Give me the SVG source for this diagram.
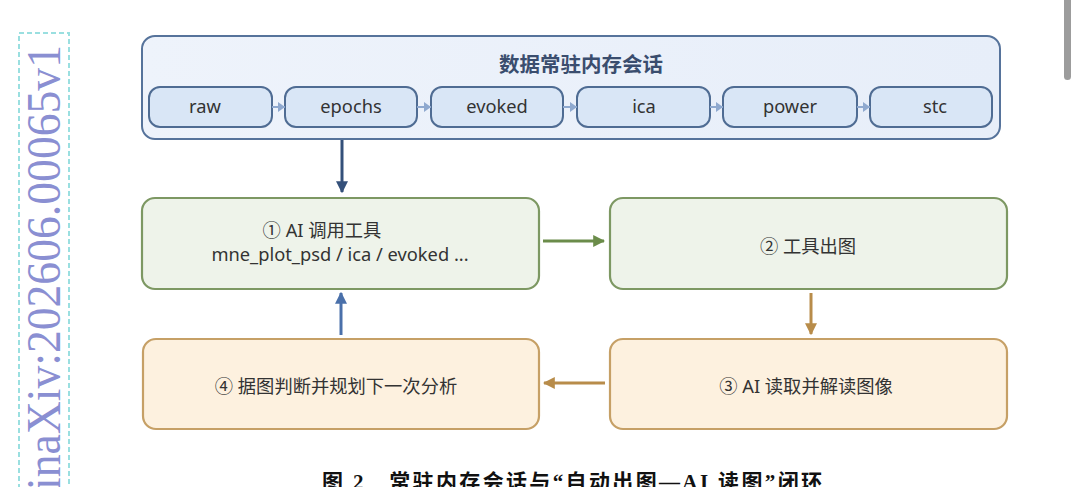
<svg xmlns="http://www.w3.org/2000/svg" width="1080" height="487" viewBox="0 0 1080 487">
  <style>
    .lbl { font-family: "Noto Sans", "Noto Sans CJK SC", sans-serif; font-size: 18.3px; fill: #333333; text-anchor: middle; }
    .pill { fill: #d9e6f6; stroke: #4f6c93; stroke-width: 2; }
    .pilltxt { font-family: "Noto Sans", "Noto Sans CJK SC", sans-serif; font-size: 18.3px; fill: #333333; text-anchor: middle; }
    .green { fill: #eef3ea; stroke: #7d9863; stroke-width: 2.2; }
    .tan { fill: #fdf1df; stroke: #c6a066; stroke-width: 2.2; }
  </style>
  <defs>
    <linearGradient id="cg" x1="0" y1="0" x2="1" y2="0">
      <stop offset="0" stop-color="#eef3fb"/>
      <stop offset="1" stop-color="#e7eef9"/>
    </linearGradient>
    <marker id="mNavy" viewBox="0 0 10 10" refX="9" refY="5" markerWidth="4" markerHeight="4" orient="auto" markerUnits="strokeWidth">
      <path d="M0,0 L10,5 L0,10 z" fill="#34507a"/>
    </marker>
    <marker id="mBlue" viewBox="0 0 10 10" refX="9" refY="5" markerWidth="4" markerHeight="4" orient="auto" markerUnits="strokeWidth">
      <path d="M0,0 L10,5 L0,10 z" fill="#4a70aa"/>
    </marker>
    <marker id="mGreen" viewBox="0 0 10 10" refX="9" refY="5" markerWidth="4" markerHeight="4" orient="auto" markerUnits="strokeWidth">
      <path d="M0,0 L10,5 L0,10 z" fill="#6b8c4a"/>
    </marker>
    <marker id="mTan" viewBox="0 0 10 10" refX="9" refY="5" markerWidth="4" markerHeight="4" orient="auto" markerUnits="strokeWidth">
      <path d="M0,0 L10,5 L0,10 z" fill="#b88c4a"/>
    </marker>
  </defs>

  <rect x="0" y="0" width="1080" height="487" fill="#ffffff"/>

  <!-- side watermark -->
  <g id="watermark">
    <rect x="19" y="33" width="50" height="470" fill="none" stroke="#9adfe0" stroke-width="2" stroke-dasharray="5 3"/>
    <text transform="translate(60,490) rotate(-90)" font-family="'Liberation Serif', serif" font-size="48" fill="#8a8fd2" textLength="445" lengthAdjust="spacingAndGlyphs">inaXiv:202606.00065v1</text>
  </g>

  <!-- scrollbar -->
  <rect x="1064" y="-6" width="7" height="86" rx="3.5" fill="#9c9c9c"/>

  <!-- container -->
  <g id="session">
    <rect x="142" y="36" width="858" height="103" rx="13" fill="url(#cg)" stroke="#56739b" stroke-width="2"/>
    <text x="581" y="72" font-family="'Noto Sans CJK SC', sans-serif" font-size="20.5" font-weight="bold" fill="#3a4d6e" text-anchor="middle">数据常驻内存会话</text>
  </g>
  <g id="raw"><rect class="pill" x="149" y="87" width="123" height="40" rx="11"/><text class="pilltxt" x="205" y="113">raw</text></g>
  <g id="epochs"><rect class="pill" x="285" y="87" width="132" height="40" rx="11"/><text class="pilltxt" x="351" y="113">epochs</text></g>
  <g id="evoked"><rect class="pill" x="431" y="87" width="132" height="40" rx="11"/><text class="pilltxt" x="497" y="113">evoked</text></g>
  <g id="ica"><rect class="pill" x="577" y="87" width="133" height="40" rx="11"/><text class="pilltxt" x="644" y="113">ica</text></g>
  <g id="power"><rect class="pill" x="723" y="87" width="134" height="40" rx="11"/><text class="pilltxt" x="790" y="113">power</text></g>
  <g id="stc"><rect class="pill" x="870" y="87" width="122" height="40" rx="11"/><text class="pilltxt" x="935" y="113">stc</text></g>

  <!-- nodes -->
  <g id="step1">
    <rect class="green" x="142" y="198" width="397" height="91" rx="13"/>
    <text class="lbl" x="322" y="237">① AI 调用工具</text>
    <text class="lbl" x="340" y="261">mne_plot_psd / ica / evoked ...</text>
  </g>
  <g id="step2">
    <rect class="green" x="610" y="198" width="397" height="91" rx="13"/>
    <text class="lbl" x="808" y="253">② 工具出图</text>
  </g>
  <g id="step3">
    <rect class="tan" x="610" y="339" width="397" height="90" rx="13"/>
    <text class="lbl" x="806" y="393">③ AI 读取并解读图像</text>
  </g>
  <g id="step4">
    <rect class="tan" x="143" y="339" width="396" height="90" rx="13"/>
    <text class="lbl" x="336" y="393">④ 据图判断并规划下一次分析</text>
  </g>

  <!-- connectors -->
  <g id="connectors" fill="none">
    <path d="M272,107 L285,107" stroke="#8fa9cf" stroke-width="2"/>
    <path d="M278,102 L285,107 L278,112 z" fill="#8fa9cf"/>
    <path d="M417,107 L431,107" stroke="#8fa9cf" stroke-width="2"/>
    <path d="M424,102 L431,107 L424,112 z" fill="#8fa9cf"/>
    <path d="M563,107 L577,107" stroke="#8fa9cf" stroke-width="2"/>
    <path d="M570,102 L577,107 L570,112 z" fill="#8fa9cf"/>
    <path d="M710,107 L723,107" stroke="#8fa9cf" stroke-width="2"/>
    <path d="M716,102 L723,107 L716,112 z" fill="#8fa9cf"/>
    <path d="M857,107 L870,107" stroke="#8fa9cf" stroke-width="2"/>
    <path d="M863,102 L870,107 L863,112 z" fill="#8fa9cf"/>

    <path d="M342,140 L342,192" stroke="#34507a" stroke-width="3" marker-end="url(#mNavy)"/>
    <path d="M543,241 L604,241" stroke="#6b8c4a" stroke-width="3" marker-end="url(#mGreen)"/>
    <path d="M811,293 L811,334" stroke="#b88c4a" stroke-width="3" marker-end="url(#mTan)"/>
    <path d="M605,383 L544,383" stroke="#b88c4a" stroke-width="3" marker-end="url(#mTan)"/>
    <path d="M341,335 L341,293" stroke="#4a70aa" stroke-width="3" marker-end="url(#mBlue)"/>
  </g>

  <!-- caption -->
  <text x="322" y="489" font-family="'Liberation Serif', 'Noto Sans CJK SC', serif" font-size="21" font-weight="bold" fill="#111111" textLength="500" lengthAdjust="spacing">图 2　常驻内存会话与“自动出图—AI 读图”闭环</text>
</svg>
